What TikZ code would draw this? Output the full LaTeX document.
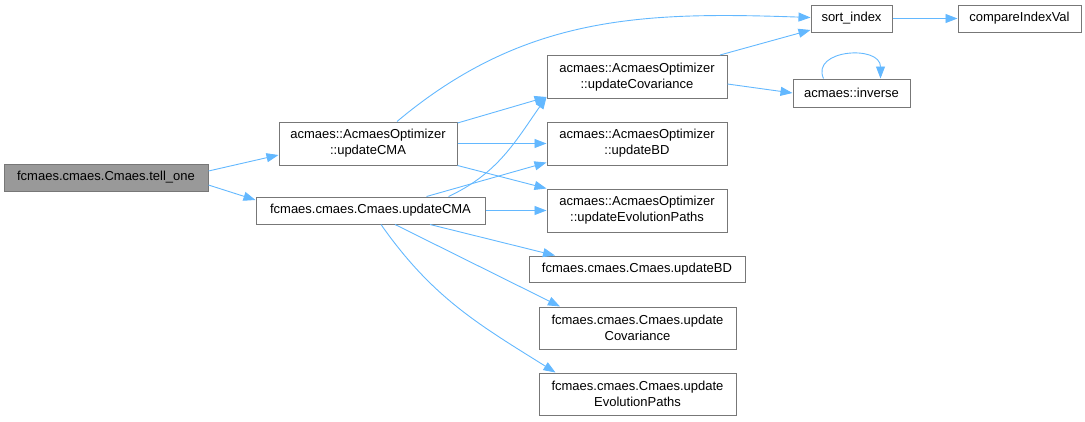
\documentclass[tikz,border=0pt]{standalone}
\usepackage{fontspec}
\setmainfont{Liberation Sans}
\usetikzlibrary{arrows.meta}
\definecolor{edgeblue}{HTML}{63B8FF}
\definecolor{nodeborder}{HTML}{777777}
\definecolor{rootfill}{HTML}{999999}
\tikzset{
  fn/.style={draw=nodeborder, line width=1pt, fill=white, inner sep=0pt, align=center,
    font=\fontsize{13}{16}\selectfont},
  rootfn/.style={fn, fill=rootfill},
  call/.style={draw=edgeblue, line width=0.9pt, -{Triangle[length=12pt,width=9pt]}}
}
\begin{document}
\begin{tikzpicture}[x=1pt,y=-1pt]
\useasboundingbox (0,0) rectangle (1085,421);
\node[rootfn, minimum width=204pt, minimum height=27pt] (tell) at (106,177.5) {fcmaes.cmaes.Cmaes.tell\_one};
\node[fn, minimum width=178pt, minimum height=43pt] (acma) at (368,143.5) {acmaes::AcmaesOptimizer\\::updateCMA};
\node[fn, minimum width=229pt, minimum height=27pt] (fcma) at (370.5,210.5) {fcmaes.cmaes.Cmaes.updateCMA};
\node[fn, minimum width=180pt, minimum height=43pt] (acov) at (637,77) {acmaes::AcmaesOptimizer\\::updateCovariance};
\node[fn, minimum width=180pt, minimum height=43pt] (abd) at (637,143.5) {acmaes::AcmaesOptimizer\\::updateBD};
\node[fn, minimum width=180pt, minimum height=43pt] (aevo) at (637,210.5) {acmaes::AcmaesOptimizer\\::updateEvolutionPaths};
\node[fn, minimum width=216pt, minimum height=26pt] (fbd) at (637,269) {fcmaes.cmaes.Cmaes.updateBD};
\node[fn, minimum width=197pt, minimum height=42pt] (fcov) at (637.5,328) {fcmaes.cmaes.Cmaes.update\\Covariance};
\node[fn, minimum width=197pt, minimum height=42pt] (fevo) at (637.5,394) {fcmaes.cmaes.Cmaes.update\\EvolutionPaths};
\node[fn, minimum width=81pt, minimum height=27pt] (sort) at (851.5,18.5) {sort\_index};
\node[fn, minimum width=123pt, minimum height=27pt] (cmp) at (1019.5,18.5) {compareIndexVal};
\node[fn, minimum width=117pt, minimum height=28pt] (inv) at (851.5,93) {acmaes::inverse};

\draw[call] ([yshift=6.5pt]tell.east) -- ([yshift=-11.5pt]acma.west);
\draw[call] ([yshift=-7.5pt]tell.east) -- ([yshift=10.5pt]fcma.west);

\draw[call] ([xshift=29pt]acma.north) to[out=40,in=178] ([yshift=1pt]sort.west);
\draw[call] ([yshift=20.5pt]acma.east) -- ([yshift=2pt]acov.south west);
\draw[call] (acma.east) -- (abd.west);
\draw[call] (acma.south east) -- ([yshift=22pt]aevo.west);

\draw[call] ([xshift=78pt]fcma.north) to[out=25,in=235] ([yshift=2pt]acov.south west);
\draw[call] ([xshift=56pt]fcma.north) -- ([yshift=-19pt]abd.west);
\draw[call] (fcma.east) -- (aevo.west);
\draw[call] ([xshift=59.5pt]fcma.south) -- ([xshift=-82pt]fbd.north);
\draw[call] ([xshift=24.5pt]fcma.south) -- ([xshift=-77.5pt]fcov.north);
\draw[call] ([xshift=10.5pt]fcma.south) to[out=-55,in=148] ([xshift=-82pt]fevo.north);

\draw[call] ([xshift=83pt]acov.north) -- ([yshift=-11.5pt]sort.west);
\draw[call] ([yshift=-7pt]acov.east) -- (inv.west);
\draw[call] ([xshift=-28pt]inv.north) .. controls +(-13,-29) and +(0,-34) .. ([xshift=29pt]inv.north);

\draw[call] (sort.east) -- (cmp.west);
\end{tikzpicture}
\end{document}
